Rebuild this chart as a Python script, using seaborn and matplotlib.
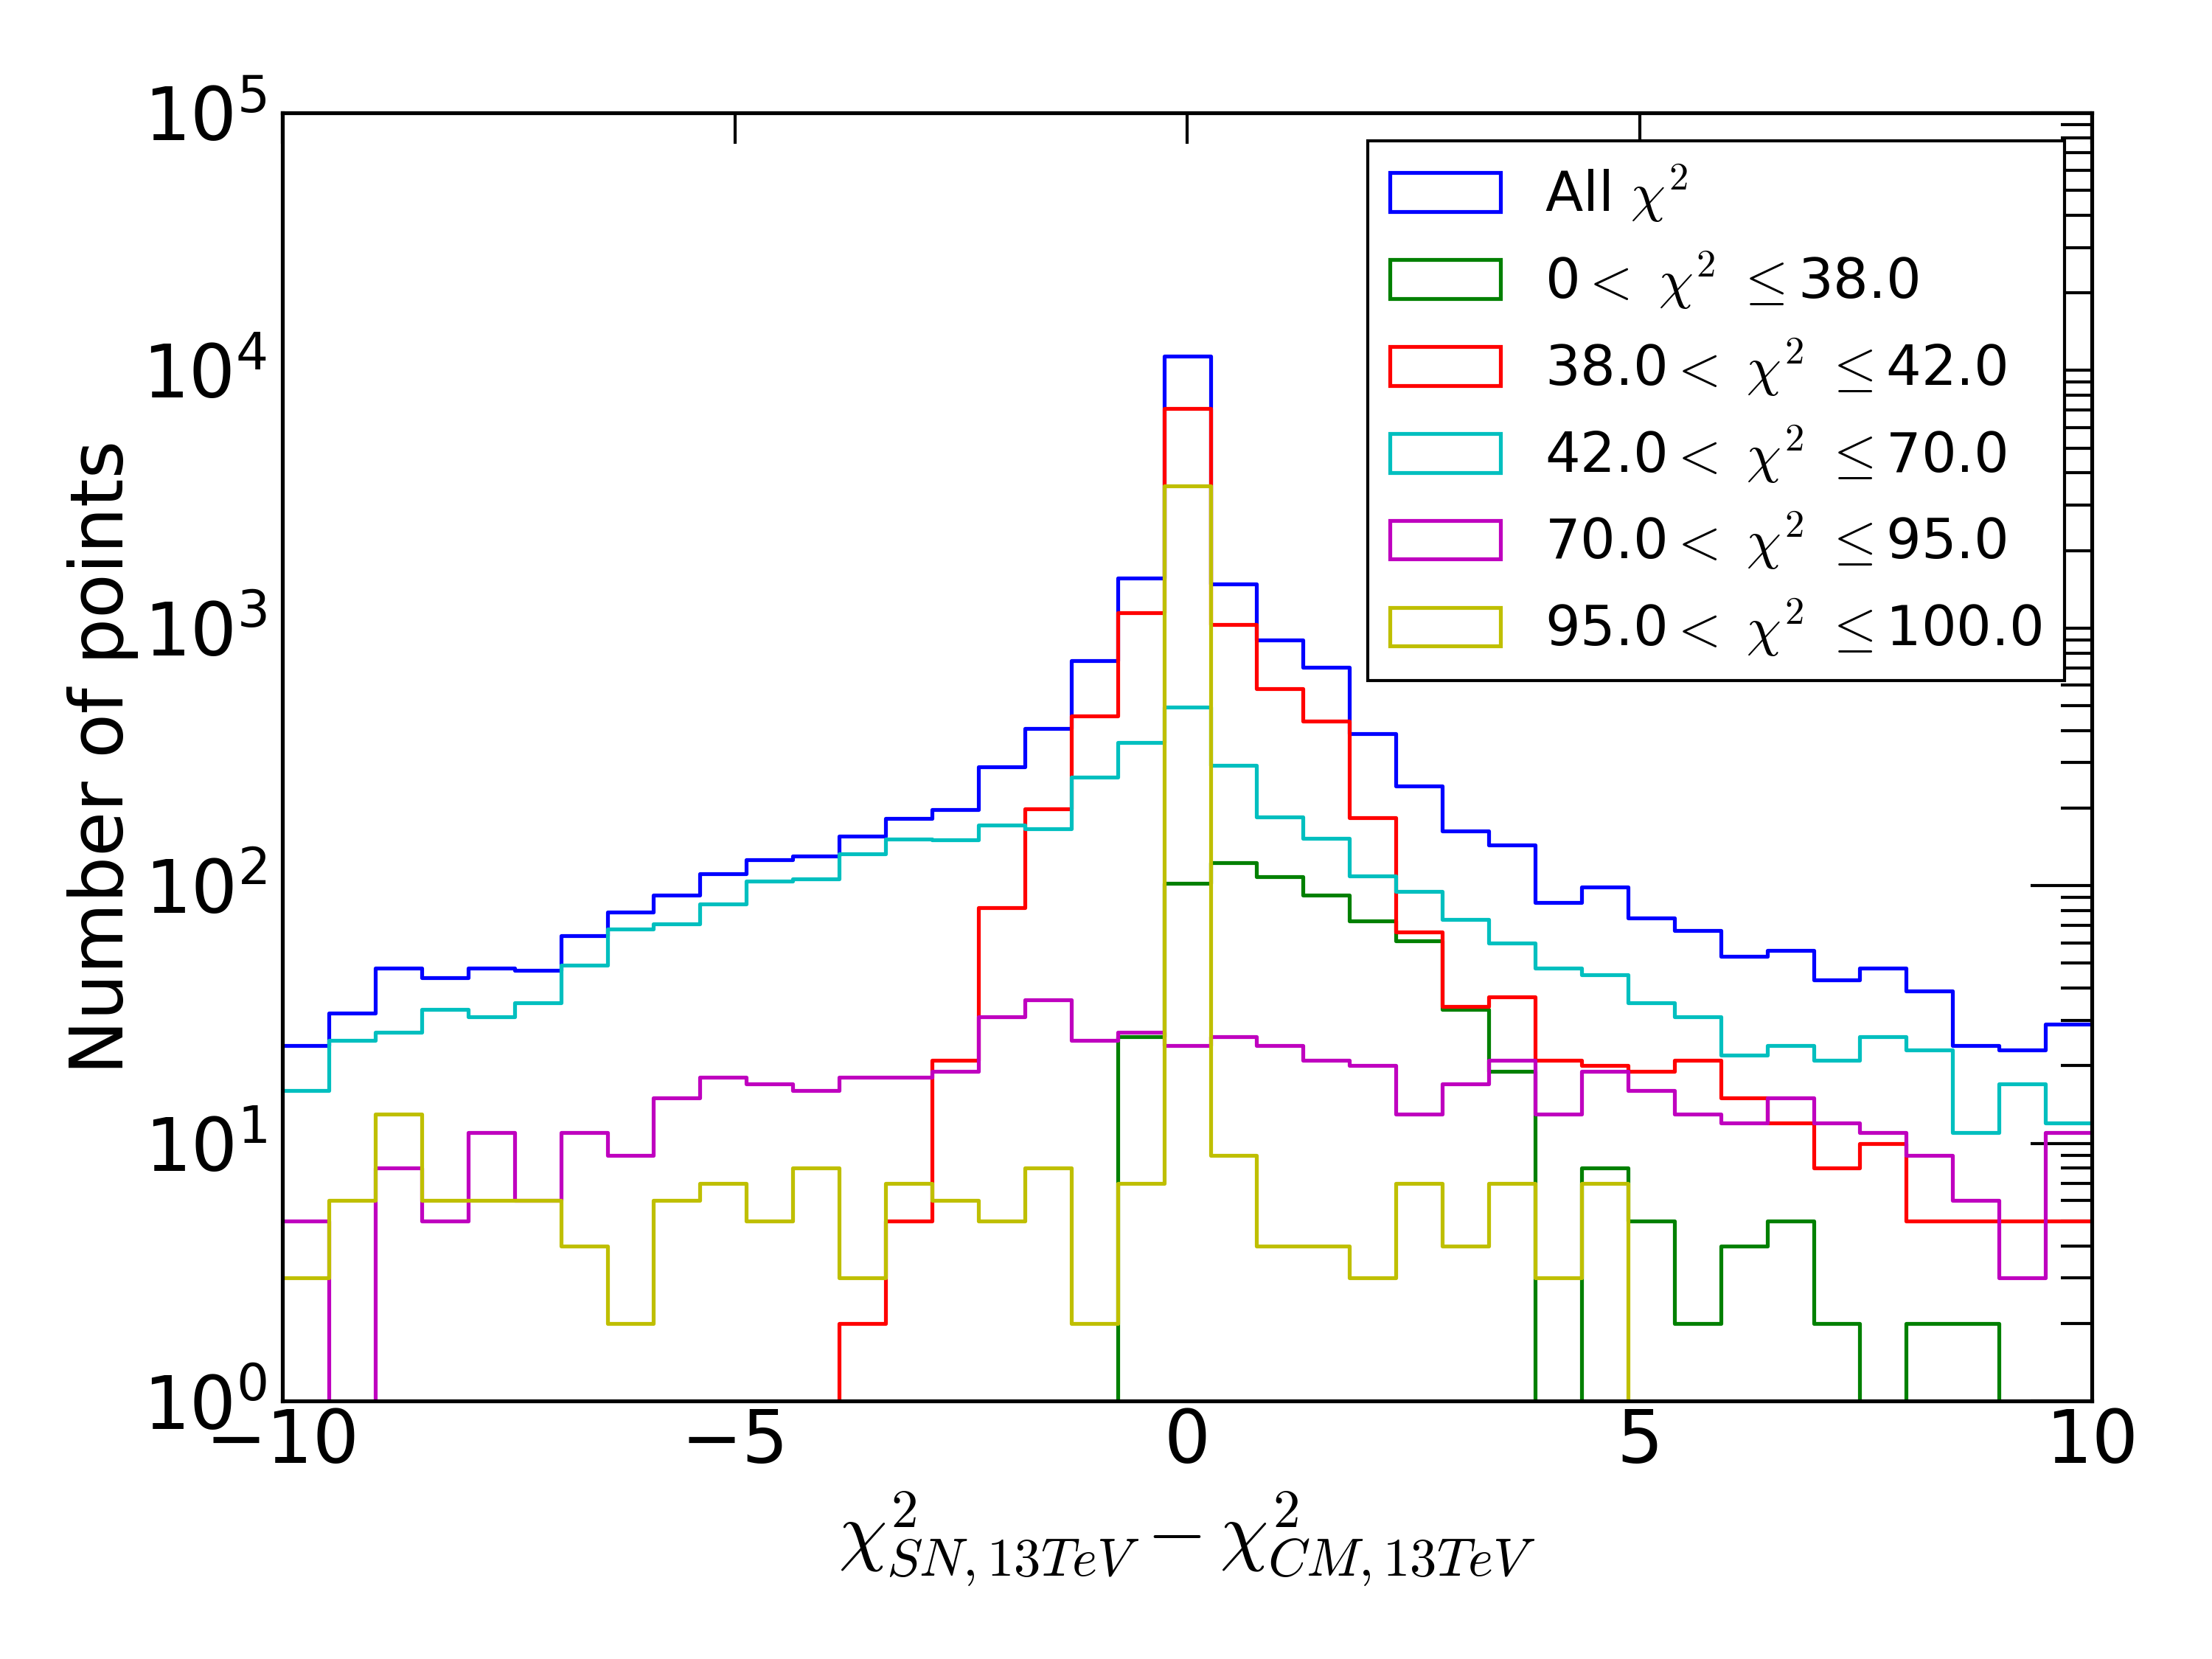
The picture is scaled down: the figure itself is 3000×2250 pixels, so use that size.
import numpy as np
import pandas as pd
import matplotlib
matplotlib.use("Agg")
import matplotlib.pyplot as plt
import seaborn as sns
from matplotlib.patches import Patch

# 39 bins between -10 and 10
n_bins = 39
x_range = (-10, 10)
bin_edges = np.linspace(x_range[0], x_range[1], n_bins + 1)
bin_centers = 0.5 * (bin_edges[:-1] + bin_edges[1:])

all_chi2 = [24, 32, 48, 44, 48, 47, 64, 79, 92, 111, 126, 130, 156, 182, 197, 290, 407, 747, 1566, 11360,
            1482, 901, 706, 390, 243, 163, 144, 86, 99, 75, 67, 53, 56, 43, 48, 39, 24, 23, 29]
chi2_0_38 = [0, 0, 0, 0, 0, 0, 0, 0, 0, 0, 0, 0, 0, 0, 0, 0, 0, 0, 26, 102,
             123, 108, 92, 73, 61, 33, 19, 0, 8, 5, 2, 4, 5, 2, 0, 2, 2, 0, 0]
chi2_38_42 = [0, 0, 0, 0, 0, 0, 0, 0, 0, 0, 0, 0, 2, 5, 21, 82, 199, 455, 1143, 7130,
              1031, 580, 436, 183, 66, 34, 37, 21, 20, 19, 21, 15, 12, 8, 10, 5, 5, 5, 5]
chi2_42_70 = [16, 25, 27, 33, 31, 35, 49, 68, 71, 85, 104, 106, 133, 152, 151, 172, 166, 263, 360, 494,
              294, 185, 153, 109, 95, 74, 60, 48, 45, 35, 31, 22, 24, 21, 26, 23, 11, 17, 12]
chi2_70_95 = [5, 0, 8, 5, 11, 6, 11, 9, 15, 18, 17, 16, 18, 18, 19, 31, 36, 25, 27, 24,
              26, 24, 21, 20, 13, 17, 21, 13, 19, 16, 13, 12, 15, 12, 11, 9, 6, 3, 11]
chi2_95_100 = [3, 6, 13, 6, 6, 6, 4, 2, 6, 7, 5, 8, 3, 7, 6, 5, 8, 2, 7, 3570,
               9, 4, 4, 3, 7, 4, 7, 3, 7, 0, 0, 0, 0, 0, 0, 0, 0, 0, 0]

series = [all_chi2, chi2_0_38, chi2_38_42, chi2_42_70, chi2_70_95, chi2_95_100]
labels = [r"All $\chi^2$",
          r"0$<\ \chi^2\ \leq$38.0",
          r"38.0$<\ \chi^2\ \leq$42.0",
          r"42.0$<\ \chi^2\ \leq$70.0",
          r"70.0$<\ \chi^2\ \leq$95.0",
          r"95.0$<\ \chi^2\ \leq$100.0"]
colors = ["#0000ff", "#008000", "#ff0000", "#00bfbf", "#bf00bf", "#bfbf00"]

sns.set_theme(style="white")
plt.rcParams["font.family"] = ["DejaVu Sans"]
plt.rcParams.update({
    "axes.linewidth": 1.0,
    "axes.edgecolor": "black",
    "text.color": "black",
    "axes.labelcolor": "black",
    "xtick.color": "black",
    "ytick.color": "black",
})

fig, ax = plt.subplots(figsize=(8, 6), dpi=375)
fig.subplots_adjust(left=0.1277, right=0.9457, bottom=0.1556, top=0.932)

for counts, col in zip(series, colors):
    df = pd.DataFrame({"center": bin_centers, "count": counts})
    sns.histplot(data=df, x="center", weights="count", bins=n_bins, binrange=x_range,
                 element="step", fill=False, color=col, linewidth=1.0, ax=ax)

ax.set_yscale("log")
ax.set_xlim(-10, 10)
ax.set_ylim(1, 1e5)
ax.set_xticks([-10, -5, 0, 5, 10])

ax.tick_params(which="both", direction="in", top=True, right=True,
               labelsize=19, width=0.8, pad=4)
ax.tick_params(axis="y", which="major", length=16)
ax.tick_params(axis="y", which="minor", length=8)
ax.tick_params(axis="x", which="major", length=8, pad=1.5)

ax.set_ylabel("Number of points", fontsize=19, labelpad=1)
ax.set_xlabel(r"$\chi^2_{SN,13TeV} - \chi^2_{CM,13TeV}$", fontsize=20,
              math_fontfamily="cm", labelpad=3)

handles = [Patch(facecolor="none", edgecolor=c, linewidth=1.0) for c in colors]
leg = ax.legend(handles, labels, loc="upper right", borderaxespad=0.5,
                prop=dict(size=14.4, math_fontfamily="cm"),
                handlelength=2.0, handleheight=0.7, handletextpad=0.8,
                labelspacing=0.46, borderpad=0.4, fancybox=False, framealpha=1)
leg.get_frame().set_edgecolor("black")
leg.get_frame().set_linewidth(0.8)

plt.savefig("out.png", dpi=375, facecolor="white")
plt.close()
